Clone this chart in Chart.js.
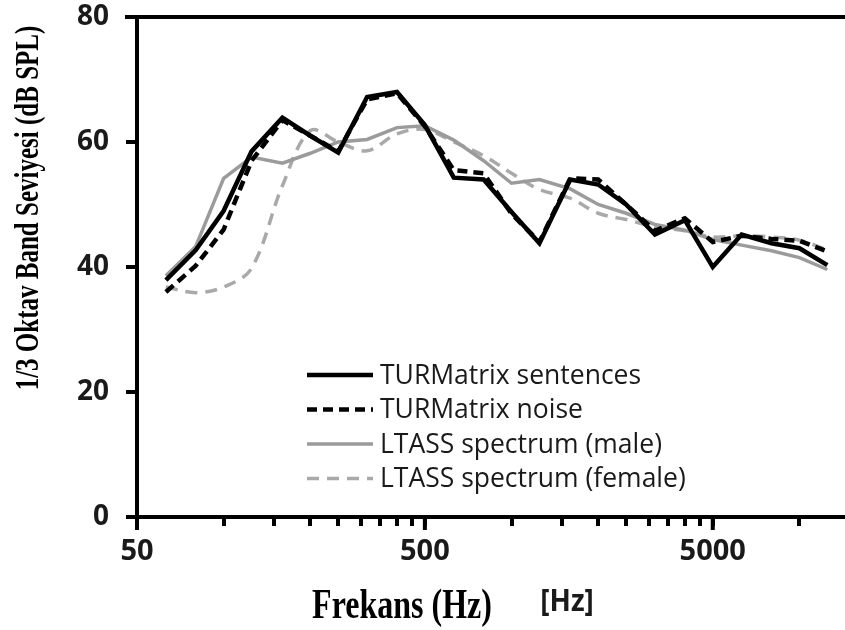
<!DOCTYPE html>
<html>
<head>
<meta charset="utf-8">
<script src="https://cdn.jsdelivr.net/npm/chart.js@4.4.0/dist/chart.umd.min.js"></script>
<style>
  html, body { margin: 0; padding: 0; background: #fff; }
  #wrap { width: 845px; height: 630px; position: relative; }
</style>
</head>
<body>
<div id="wrap"><canvas id="spectrumChart"></canvas></div>
<script>
// 1/3 octave band centre frequencies (Hz)
const freqs = [63, 80, 100, 125, 160, 200, 250, 315, 400, 500, 630, 800,
  1000, 1250, 1600, 2000, 2500, 3150, 4000, 5000, 6300, 8000, 10000, 12500];

// band levels, dB SPL
const sentences = [37.9, 42.7, 49.0, 58.5, 63.9, 61.0, 58.3, 67.2, 68.0, 62.7, 54.3, 54.0,
  48.8, 43.8, 54.0, 53.2, 50.0, 45.2, 47.5, 40.0, 45.2, 43.8, 43.0, 40.3];
const noise = [36.0, 40.2, 46.0, 57.0, 63.5, 61.0, 58.5, 66.8, 67.8, 62.5, 55.5, 55.0,
  48.5, 44.0, 54.2, 54.0, 50.0, 45.8, 47.8, 44.0, 45.0, 44.5, 44.2, 42.5];
const male = [38.6, 43.3, 54.2, 57.6, 56.6, 58.2, 60.0, 60.4, 62.3, 62.6, 60.3, 57.0,
  53.4, 54.0, 52.5, 50.0, 48.6, 46.8, 45.9, 44.4, 43.5, 42.6, 41.5, 39.6];
const female = [36.8, 35.9, 36.8, 39.8, 53.0, 61.8, 60.0, 58.6, 61.3, 62.0, 60.0, 57.8,
  55.0, 52.4, 51.0, 48.6, 47.6, 46.4, 45.8, 44.8, 45.0, 44.8, 44.3, 42.7];

const xTicks = [50, 100, 150, 200, 250, 300, 350, 400, 450, 500,
  1000, 1500, 2000, 2500, 3000, 3500, 4000, 4500, 5000, 10000];
const xLabels = [50, 500, 5000];
const yTicks = [0, 20, 40, 60, 80];

const yTitle = "1/3 Oktav Band Seviyesi (dB SPL)";
const xTitle = "Frekans (Hz)";
const unitText = "[Hz]";

const toPoints = arr => freqs.map((f, i) => ({ x: f, y: arr[i] }));

// text that is drawn taller than wide, like the source figure
function tallText(ctx, text, x, y, rot, stretch) {
  ctx.save();
  ctx.translate(x, y);
  ctx.rotate(rot);
  ctx.scale(1, stretch);
  ctx.fillText(text, 0, 0);
  ctx.restore();
}

// longer ticks for the labelled decades, top frame line, titles
const decor = {
  id: "decor",
  afterDraw(chart) {
    const { ctx, chartArea, scales } = chart;
    ctx.save();
    ctx.strokeStyle = "#000";
    ctx.lineCap = "butt";
    ctx.lineWidth = 4;
    ctx.beginPath();
    ctx.moveTo(chartArea.left - 12, scales.y.getPixelForValue(80));
    ctx.lineTo(chartArea.right, scales.y.getPixelForValue(80));
    ctx.stroke();
    xLabels.forEach(v => {
      const px = scales.x.getPixelForValue(v);
      ctx.beginPath();
      ctx.moveTo(px, chartArea.bottom);
      ctx.lineTo(px, chartArea.bottom + 13);
      ctx.stroke();
    });

    ctx.fillStyle = "#000";
    ctx.font = 'bold 25px "Liberation Serif"';
    ctx.textAlign = "center";
    ctx.textBaseline = "middle";
    tallText(ctx, yTitle, 29, 208, -Math.PI / 2, 1.35);
    ctx.font = 'bold 32px "Liberation Serif"';
    tallText(ctx, xTitle, 402, 607, 0, 1.3);
    ctx.fillStyle = "#1a1a1a";
    ctx.font = 'bold 28px "Open Sans"';
    tallText(ctx, unitText, 567, 602, 0, 1.1);
    ctx.restore();
  }
};

// legend box inside the plot
const innerLegend = {
  id: "innerLegend",
  afterDatasetsDraw(chart) {
    const { ctx } = chart;
    ctx.save();
    ctx.font = '26.5px "Open Sans"';
    ctx.textBaseline = "middle";
    ctx.textAlign = "left";
    chart.data.datasets.forEach((ds, i) => {
      const y = 375 + i * 34.5;
      ctx.strokeStyle = ds.borderColor;
      ctx.lineWidth = ds.borderWidth;
      ctx.setLineDash(ds.borderDash || []);
      ctx.beginPath();
      ctx.moveTo(307, y);
      ctx.lineTo(373, y);
      ctx.stroke();
      ctx.setLineDash([]);
      ctx.fillStyle = "#1a1a1a";
      ctx.fillText(ds.label, 380, y + 1);
    });
    ctx.restore();
  }
};

new Chart(document.getElementById("spectrumChart"), {
  type: "line",
  data: {
    datasets: [
      { label: "TURMatrix sentences", data: toPoints(sentences), borderColor: "#000", borderWidth: 4.5, tension: 0 },
      { label: "TURMatrix noise", data: toPoints(noise), borderColor: "#000", borderWidth: 4.5, borderDash: [10, 6], tension: 0 },
      { label: "LTASS spectrum (male)", data: toPoints(male), borderColor: "#9b9b9b", borderWidth: 3.5, tension: 0 },
      { label: "LTASS spectrum (female)", data: toPoints(female), borderColor: "#a9a9a9", borderWidth: 3.5, borderDash: [12, 8], tension: 0.35 }
    ]
  },
  options: {
    responsive: true,
    maintainAspectRatio: false,
    animation: false,
    layout: { padding: { top: 17, right: 0, left: 0, bottom: 0 } },
    elements: { point: { radius: 0 } },
    plugins: {
      legend: { display: false },
      tooltip: { enabled: false }
    },
    scales: {
      x: {
        type: "logarithmic",
        min: 50,
        max: 14400,
        afterBuildTicks: scale => {
          scale.ticks = xTicks.map(v => ({ value: v }));
        },
        afterFit: scale => {
          scale.height = 113;
          scale.paddingLeft = 0;
          scale.paddingRight = 0;
        },
        border: { display: true, color: "#000", width: 4 },
        grid: { drawOnChartArea: false, drawTicks: true, tickLength: 9, color: "#000", lineWidth: 4 },
        ticks: {
          autoSkip: false,
          maxRotation: 0,
          padding: 8,
          color: "#1a1a1a",
          font: { family: "Open Sans", size: 29, weight: "bold" },
          callback: v => (xLabels.includes(v) ? String(v) : "")
        }
      },
      y: {
        min: 0,
        max: 80,
        afterBuildTicks: scale => {
          scale.ticks = yTicks.map(v => ({ value: v }));
        },
        afterFit: scale => {
          scale.width = 137;
          scale.paddingTop = 0;
          scale.paddingBottom = 0;
        },
        border: { display: true, color: "#000", width: 4 },
        grid: { drawOnChartArea: false, drawTicks: true, tickLength: 11, color: "#000", lineWidth: 4 },
        ticks: {
          padding: 17,
          color: "#1a1a1a",
          font: { family: "Open Sans", size: 28, weight: "bold" }
        }
      }
    }
  },
  plugins: [decor, innerLegend]
});
</script>
</body>
</html>
